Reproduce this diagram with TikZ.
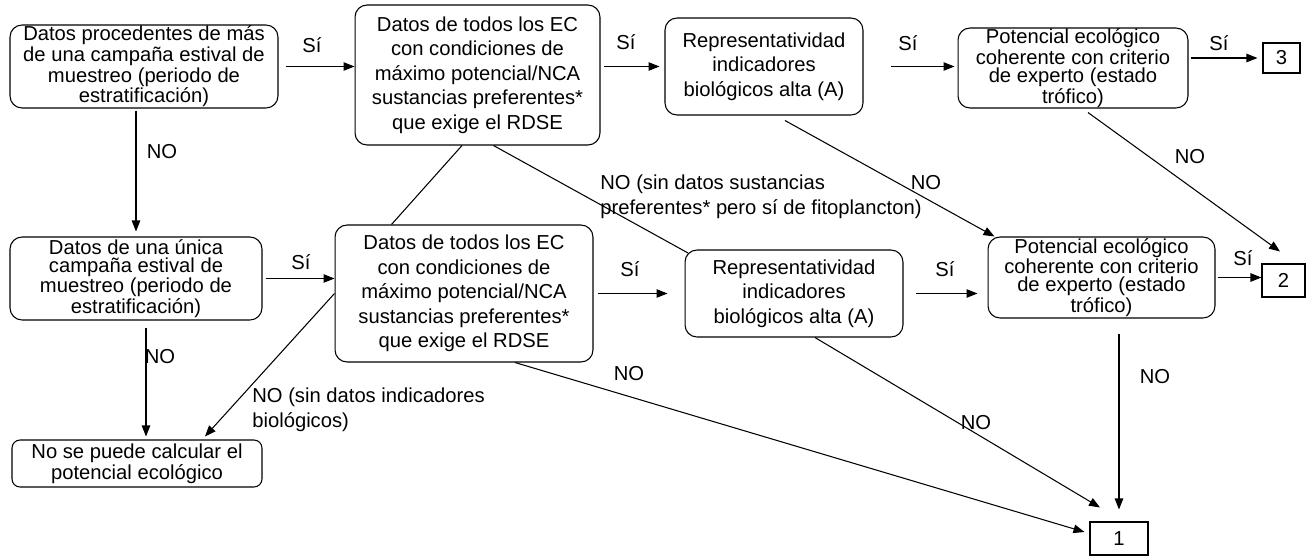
\documentclass[tikz,border=0pt]{standalone}
\usepackage{fontspec}
\setmainfont{Liberation Sans}
\usetikzlibrary{arrows.meta}

\tikzset{
  caja/.style={draw, rounded corners=0.24cm, align=center, inner sep=0pt, line width=0.6pt, font=\fontsize{11.5}{14}\selectfont},
  apretada/.style={font=\fontsize{11.5}{10.2}\selectfont},
  resultado/.style={draw, inner sep=0pt, line width=0.6pt, font=\fontsize{11.5}{14}\selectfont},
  flecha/.style={line width=0.6pt, -{Triangle[length=0.22cm,width=0.17cm]}},
  linea/.style={line width=0.6pt},
  etiqueta/.style={inner sep=0pt, font=\fontsize{11.5}{14}\selectfont},
}

\begin{document}
\begin{tikzpicture}[x=0.02cm, y=-0.02cm]
\useasboundingbox (0,0) rectangle (1316,558);

% fila superior
\node[caja, apretada, minimum width=5.36cm, minimum height=1.66cm] (datosmas) at (144,66.5) {Datos procedentes de más\\de una campaña estival de\\muestreo (periodo de\\estratificación)};
\node[caja, minimum width=4.9cm, minimum height=2.8cm] (todosec1) at (477.5,75) {Datos de todos los EC\\con condiciones de\\máximo potencial/NCA\\sustancias preferentes*\\que exige el RDSE};
\node[caja, minimum width=3.96cm, minimum height=1.94cm] (repr1) at (764,66.5) {Representatividad\\indicadores\\biológicos alta (A)};
\node[caja, apretada, minimum width=4.6cm, minimum height=1.6cm] (potec1) at (1073,68) {Potencial ecológico\\coherente con criterio\\de experto (estado\\trófico)};
\node[resultado, minimum width=0.74cm, minimum height=0.6cm] (res3) at (1281.5,58) {3};

% fila central
\node[caja, apretada, minimum width=5.04cm, minimum height=1.66cm] (datosuna) at (136,278.5) {Datos de una única\\campaña estival de\\muestreo (periodo de\\estratificación)};
\node[caja, minimum width=5.16cm, minimum height=2.74cm] (todosec2) at (464,293.5) {Datos de todos los EC\\con condiciones de\\máximo potencial/NCA\\sustancias preferentes*\\que exige el RDSE};
\node[caja, minimum width=4.36cm, minimum height=1.74cm] (repr2) at (794,293.5) {Representatividad\\indicadores\\biológicos alta (A)};
\node[caja, apretada, minimum width=4.54cm, minimum height=1.62cm] (potec2) at (1101.5,277.5) {Potencial ecológico\\coherente con criterio\\de experto (estado\\trófico)};
\node[resultado, minimum width=0.86cm, minimum height=0.66cm] (res2) at (1283.5,280.5) {2};

% fila inferior
\node[caja, apretada, rounded corners=0.16cm, minimum width=5cm, minimum height=0.94cm] (nocalc) at (137,463.5) {No se puede calcular el\\potencial ecológico};
\node[resultado, minimum width=1.16cm, minimum height=0.66cm] (res1) at (1119,538.5) {1};

% conectores
\draw[flecha, shorten <=0.14cm] (datosmas.east) -- (datosmas.east -| todosec1.west);
\draw[flecha, shorten <=0.06cm, shorten >=0.1cm] (repr1.west -| todosec1.east) -- (repr1.west);
\draw[flecha, shorten <=0.54cm, shorten >=0.06cm] (repr1.east) -- (repr1.east -| potec1.west);
\draw[flecha, shorten <=0.04cm, shorten >=0.1cm] (res3.west -| potec1.east) -- (res3.west);
\draw[flecha, shorten <=0.04cm, shorten >=0.1cm] (datosuna.north |- datosmas.south) -- (datosuna.north);
\draw[flecha, shorten <=0.06cm] (datosuna.east) -- (datosuna.east -| todosec2.west);
\draw[linea] ([xshift=-0.31cm]todosec1.south) -- ([xshift=1.14cm]todosec2.north west);
\draw[linea] ([xshift=0.32cm]todosec1.south) -- ([shift={(0.07cm,-0.07cm)}]repr2.north west);
\draw[flecha, shorten <=0.08cm, shorten >=0.34cm] (todosec2.east) -- (todosec2.east -| repr2.west);
\draw[flecha, shorten <=0.24cm, shorten >=0.2cm] (repr2.east) -- (repr2.east -| potec2.west);
\draw[flecha, shorten <=0.04cm] (potec2.east) -- (potec2.east -| res2.west);
\draw[flecha] ([shift={(0.42cm,-0.1cm)}]repr1.south) -- ([xshift=0.14cm]potec2.north west);
\draw[flecha] ([shift={(0.3cm,-0.08cm)}]potec1.south) -- ([shift={(-0.07cm,0.24cm)}]res2.north);
\draw[flecha, shorten <=0.14cm, shorten >=0.06cm] ([xshift=0.2cm]datosuna.south) -- ([xshift=0.2cm]datosuna.south |- nocalc.north);
\draw[flecha] (todosec2.west) -- ([shift={(1.36cm,0.06cm)}]nocalc.north);
\draw[flecha] ([xshift=1.02cm]todosec2.south) -- ([shift={(-0.1cm,0.13cm)}]res1.west);
\draw[flecha] ([xshift=0.42cm]repr2.south) -- ([shift={(-0.38cm,0.28cm)}]res1.north);
\draw[flecha, shorten <=0.3cm, shorten >=0.24cm] (res1.north |- potec2.south) -- (res1.north);

% etiquetas
\node[etiqueta] (si1) at (312,45) {Sí};
\node[etiqueta] (si2) at (626,42) {Sí};
\node[etiqueta] (si3) at (908,43) {Sí};
\node[etiqueta] (si4) at (1219,43) {Sí};
\node[etiqueta] (no1) at (162,152) {NO};
\node[etiqueta] (si5) at (301,262) {Sí};
\node[etiqueta, anchor=west, align=left] (no2) at (600,197) {NO (sin datos sustancias\\preferentes* pero sí de fitoplancton)};
\node[etiqueta] (si6) at (630,269) {Sí};
\node[etiqueta] (no3) at (926,183) {NO};
\node[etiqueta] (si7) at (945,269) {Sí};
\node[etiqueta] (no4) at (1190,157) {NO};
\node[etiqueta] (si8) at (1243,258) {Sí};
\node[etiqueta] (no5) at (160,357) {NO};
\node[etiqueta, anchor=west, align=left] (no6) at (252,410) {NO (sin datos indicadores\\biológicos)};
\node[etiqueta] (no7) at (629,374) {NO};
\node[etiqueta] (no8) at (976,423) {NO};
\node[etiqueta] (no9) at (1155,377) {NO};
\end{tikzpicture}
\end{document}
